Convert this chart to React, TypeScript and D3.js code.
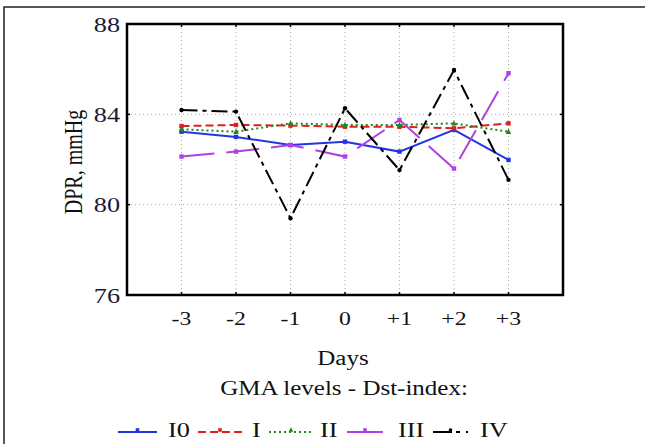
import React from "react";
import * as d3 from "d3";

const days = [-3, -2, -1, 0, 1, 2, 3];
const dayLabels = ["-3", "-2", "-1", "0", "+1", "+2", "+3"];
const yTicks = [76, 80, 84, 88];
const seriesNames = ["I0", "I", "II", "III", "IV"];
const valuesI0 = [83.23, 83.0, 82.64, 82.79, 82.35, 83.31, 81.98];
const valuesI = [83.48, 83.53, 83.5, 83.45, 83.45, 83.38, 83.6];
const valuesII = [83.34, 83.23, 83.6, 83.53, 83.53, 83.6, 83.23];
const valuesIII = [82.13, 82.35, 82.64, 82.13, 83.75, 81.6, 85.82];
const valuesIV = [84.19, 84.12, 79.4, 84.27, 81.53, 85.96, 81.1];

const colors = ["#2436e0", "#e01e1e", "#1a8a1a", "#b040e0", "#000000"];
const dashes = ["", "8,4", "2,3", "33,12", "16,5,4,5"];
const allValues = [valuesI0, valuesI, valuesII, valuesIII, valuesIV];

const W = 645, H = 444;
const L = 127, R = 563, T = 24, B = 295;
const font = "'Liberation Serif', 'Times New Roman', serif";
const SX = 1.25;

function SText(props: { x: number; y: number; size: number; anchor?: string; fill?: string; children: React.ReactNode }) {
  const { x, y, size, anchor = "start", fill = "#111", children } = props;
  return (
    <g transform={`translate(${x},${y}) scale(${SX},1)`}>
      <text x={0} y={0} textAnchor={anchor as any} fontFamily={font} fontSize={size} fill={fill}>
        {children}
      </text>
    </g>
  );
}

export default function App() {
  const x = d3.scaleLinear().domain([-4, 4]).range([L, R]);
  const y = d3.scaleLinear().domain([76, 88]).range([B, T]);
  const line = d3.line<number>().x((_, i) => x(days[i])).y((v) => y(v));

  const legendItems = [
    { x0: 118, x1: 157, tx: 168 },
    { x0: 198, x1: 242, tx: 252 },
    { x0: 269, x1: 313, tx: 320 },
    { x0: 347, x1: 383, tx: 398 },
    { x0: 433, x1: 468, tx: 480 },
  ];
  const legY = 432;

  const marker = (si: number, cx: number, cy: number, key: any, s = 2.2) => {
    if (si === 2) {
      return <path key={key} d={`M${cx},${cy - s - 1}L${cx + s + 0.5},${cy + s}L${cx - s - 0.5},${cy + s}Z`} fill={colors[si]} />;
    }
    if (si === 4) {
      return <circle key={key} cx={cx} cy={cy} r={s} fill={colors[si]} />;
    }
    return <rect key={key} x={cx - s} y={cy - s} width={2 * s} height={2 * s} fill={colors[si]} />;
  };

  return (
    <svg width={W} height={H} style={{ position: "absolute", left: 0, top: 0, background: "#fff" }}>
      <rect x={0} y={0} width={W} height={H} fill="#fff" />
      <rect x={4} y={7} width={W + 20} height={H + 20} fill="none" stroke="#222" strokeWidth={1.5} />
      {/* grid */}
      {days.map((d) => (
        <line key={"gx" + d} x1={x(d)} x2={x(d)} y1={T} y2={B} stroke="#aaa" strokeWidth={1} strokeDasharray="1,3" />
      ))}
      {[80, 84].map((v) => (
        <line key={"gy" + v} x1={L} x2={R} y1={y(v)} y2={y(v)} stroke="#aaa" strokeWidth={1} strokeDasharray="1,3" />
      ))}
      {/* ticks */}
      {days.map((d) => (
        <g key={"t" + d}>
          <line x1={x(d)} x2={x(d)} y1={T} y2={T + 3} stroke="#000" strokeWidth={1.5} />
          <line x1={x(d)} x2={x(d)} y1={B} y2={B - 3} stroke="#000" strokeWidth={1.5} />
        </g>
      ))}
      {[80, 84].map((v) => (
        <g key={"ty" + v}>
          <line x1={L} x2={L + 3} y1={y(v)} y2={y(v)} stroke="#000" strokeWidth={1.5} />
          <line x1={R} x2={R - 3} y1={y(v)} y2={y(v)} stroke="#000" strokeWidth={1.5} />
        </g>
      ))}
      {/* series */}
      {allValues.map((vals, si) => (
        <g key={"s" + si}>
          <path d={line(vals) || ""} fill="none" stroke={colors[si]} strokeWidth={2} strokeDasharray={dashes[si] || undefined} />
          {vals.map((v, i) => marker(si, x(days[i]), y(v), i))}
        </g>
      ))}
      {/* frame */}
      <rect x={L} y={T} width={R - L} height={B - T} fill="none" stroke="#000" strokeWidth={2.5} />
      {/* y labels */}
      {yTicks.map((v) => (
        <SText key={"yl" + v} x={120} y={y(v) + 7.5} size={21} anchor="end" fill="#1a1a3a">
          {v}
        </SText>
      ))}
      <g transform={`translate(82,162) scale(${SX},1) rotate(-90)`}>
        <text x={0} y={0} textAnchor="middle" fontFamily={font} fontSize={20} fill="#111">
          DPR, mmHg
        </text>
      </g>
      {/* x labels */}
      {days.map((d, i) => (
        <SText key={"xl" + d} x={x(d)} y={325} size={19} anchor="middle">
          {dayLabels[i]}
        </SText>
      ))}
      <SText x={343} y={365} size={20} anchor="middle">Days</SText>
      <SText x={344} y={395} size={20} anchor="middle">GMA levels - Dst-index:</SText>
      {/* legend */}
      {seriesNames.map((n, si) => (
        <g key={"lg" + n}>
          <line x1={legendItems[si].x0} x2={legendItems[si].x1} y1={legY} y2={legY} stroke={colors[si]} strokeWidth={2} strokeDasharray={si === 4 ? "19,4,4,6" : si === 3 ? undefined : dashes[si] || undefined} />
          {marker(si, (legendItems[si].x0 + legendItems[si].x1) / 2, legY - 2, "m", 1.8)}
          <SText x={legendItems[si].tx} y={legY + 5} size={21}>{n}</SText>
        </g>
      ))}
    </svg>
  );
}
